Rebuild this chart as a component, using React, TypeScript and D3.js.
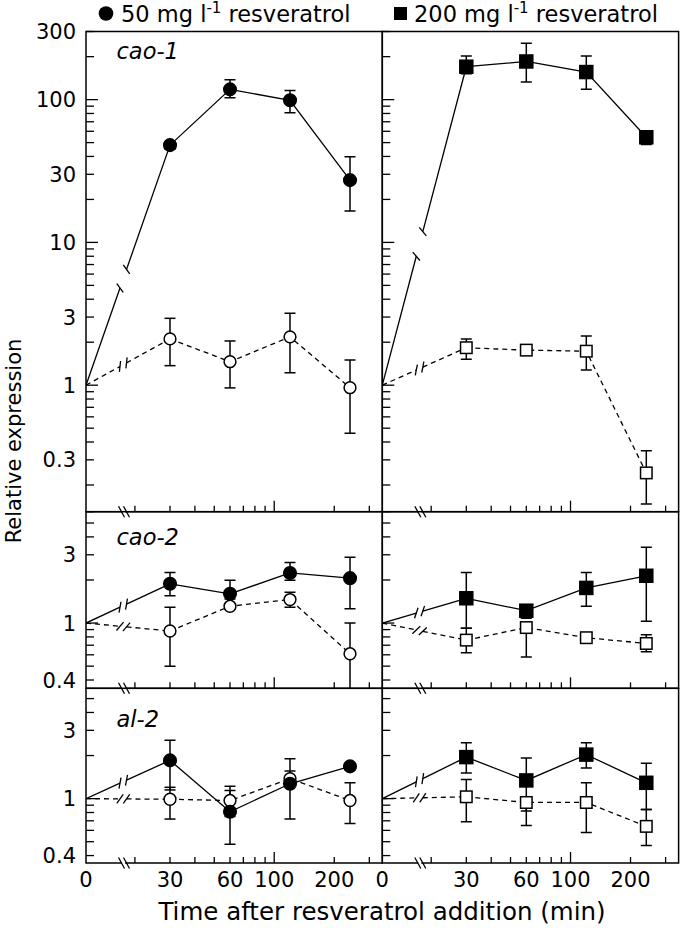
import React from 'react';
import * as d3 from 'd3';

// ---------- data ----------
const times = [30, 60, 120, 240];
const xMinorTicks = [20, 30, 40, 50, 60, 70, 80, 90, 200, 300];
const xMajorTicks = [100];
const xTickLabels = [30, 60, 100, 200];
const yLabelsTop = [300, 100, 30, 10, 3, 1, 0.3];
const yLabelsLow = [3, 1, 0.4];
const geneNames = ['cao-1', 'cao-2', 'al-2'];
const legendLabels = ['50 mg l', '200 mg l'];

// cao-1, 50 mg/l
const cao1_50_filled = [48, 118, 99, 27.3];
const cao1_50_filled_hi = [51, 138, 116, 39.8];
const cao1_50_filled_lo = [45, 103, 81, 16.6];
const cao1_50_open = [2.11, 1.46, 2.18, 0.96];
const cao1_50_open_hi = [2.94, 2.04, 3.19, 1.5];
const cao1_50_open_lo = [1.37, 0.957, 1.22, 0.46];
// cao-1, 200 mg/l
const cao1_200_filled = [170, 185, 156, 54.5];
const cao1_200_filled_hi = [202, 248, 202, 59.8];
const cao1_200_filled_lo = [152, 133, 118, 48.4];
const cao1_200_open = [1.83, 1.76, 1.73, 0.243];
const cao1_200_open_hi = [2.11, 1.85, 2.21, 0.347];
const cao1_200_open_lo = [1.52, 1.68, 1.28, 0.147];
// cao-2, 50 mg/l
const cao2_50_filled = [1.88, 1.6, 2.24, 2.06];
const cao2_50_filled_hi = [2.26, 1.99, 2.65, 2.88];
const cao2_50_filled_lo = [1.55, 1.47, 1.99, 1.26];
const cao2_50_open = [0.88, 1.31, 1.46, 0.61];
const cao2_50_open_hi = [1.29, 1.36, 1.64, 1.0];
const cao2_50_open_lo = [0.5, 1.25, 1.29, 0.3];
// cao-2, 200 mg/l
const cao2_200_filled = [1.49, 1.22, 1.76, 2.14];
const cao2_200_filled_hi = [2.26, 1.34, 2.26, 3.38];
const cao2_200_filled_lo = [0.92, 1.08, 1.31, 1.03];
const cao2_200_open = [0.76, 0.93, 0.79, 0.72];
const cao2_200_open_hi = [0.92, 0.99, 0.83, 0.83];
const cao2_200_open_lo = [0.62, 0.58, 0.75, 0.63];
// al-2, 50 mg/l
const al2_50_filled = [1.85, 0.81, 1.27, 1.68];
const al2_50_filled_hi = [2.56, 1.14, 1.9, 1.75];
const al2_50_filled_lo = [1.15, 0.48, 0.72, 1.6];
const al2_50_open = [0.99, 0.97, 1.38, 0.97];
const al2_50_open_hi = [1.2, 1.22, 1.56, 1.29];
const al2_50_open_lo = [0.72, 0.75, 1.22, 0.67];
// al-2, 200 mg/l
const al2_200_filled = [1.95, 1.34, 2.03, 1.29];
const al2_200_filled_hi = [2.46, 1.92, 2.46, 1.77];
const al2_200_filled_lo = [1.51, 0.82, 1.64, 0.84];
const al2_200_open = [1.03, 0.94, 0.94, 0.64];
const al2_200_open_hi = [1.36, 1.0, 1.29, 0.84];
const al2_200_open_lo = [0.69, 0.65, 0.58, 0.47];

type Series = { mean: number[]; lo: number[]; hi: number[] };
const mk = (mean: number[], lo: number[], hi: number[]): Series => ({ mean, lo, hi });

// panels[row][col] = { filled, open }
const panelData = [
  [
    { filled: mk(cao1_50_filled, cao1_50_filled_lo, cao1_50_filled_hi), open: mk(cao1_50_open, cao1_50_open_lo, cao1_50_open_hi) },
    { filled: mk(cao1_200_filled, cao1_200_filled_lo, cao1_200_filled_hi), open: mk(cao1_200_open, cao1_200_open_lo, cao1_200_open_hi) },
  ],
  [
    { filled: mk(cao2_50_filled, cao2_50_filled_lo, cao2_50_filled_hi), open: mk(cao2_50_open, cao2_50_open_lo, cao2_50_open_hi) },
    { filled: mk(cao2_200_filled, cao2_200_filled_lo, cao2_200_filled_hi), open: mk(cao2_200_open, cao2_200_open_lo, cao2_200_open_hi) },
  ],
  [
    { filled: mk(al2_50_filled, al2_50_filled_lo, al2_50_filled_hi), open: mk(al2_50_open, al2_50_open_lo, al2_50_open_hi) },
    { filled: mk(al2_200_filled, al2_200_filled_lo, al2_200_filled_hi), open: mk(al2_200_open, al2_200_open_lo, al2_200_open_hi) },
  ],
];

// ---------- layout ----------
const W = 680;
const H = 940;
const FONT = '"DejaVu Sans", Verdana, sans-serif';
const colLeft = [86, 382.3];
const panelW = 296.3;
const rows = [
  { top: 31.5, bottom: 511.7, domain: [0.13, 300], labels: yLabelsTop },
  { top: 511.7, bottom: 688.3, domain: [0.35, 6], labels: yLabelsLow },
  { top: 688.3, bottom: 863, domain: [0.355, 5.9], labels: yLabelsLow },
];
const geneLabelBaseline = [59, 545, 726.5];

const xs = d3.scaleLog().domain([30, 240]).range([84, 264]);

const fmt = (v: number) => (v < 1 ? String(v) : d3.format('d')(v));

function BreakLine({ x0, y0, x1, y1, dashed }: { x0: number; y0: number; x1: number; y1: number; dashed: boolean }) {
  const ga = 34;
  const gb = 40.5;
  const dx = x1 - x0;
  const dy = y1 - y0;
  const ta = ga / dx;
  const tb = gb / dx;
  const ax = x0 + dx * ta, ay = y0 + dy * ta;
  const bx = x0 + dx * tb, by = y0 + dy * tb;
  const ang = Math.atan2(dy, dx) - (55 * Math.PI) / 180;
  const L = 5.5;
  const mx = Math.cos(ang) * L, my = Math.sin(ang) * L;
  const dash = dashed ? '5,4' : undefined;
  return (
    <g stroke="#000" strokeWidth={1.3} fill="none">
      <line x1={x0} y1={y0} x2={ax} y2={ay} strokeDasharray={dash} />
      <line x1={bx} y1={by} x2={x1} y2={y1} strokeDasharray={dash} />
      <line x1={ax - mx} y1={ay - my} x2={ax + mx} y2={ay + my} />
      <line x1={bx - mx} y1={by - my} x2={bx + mx} y2={by + my} />
    </g>
  );
}

function Panel({ r, c }: { r: number; c: number }) {
  const row = rows[r];
  const left = colLeft[c];
  const ys = d3.scaleLog().domain(row.domain).range([row.bottom, row.top]);
  const x = (t: number) => left + xs(t);
  const d = panelData[r][c];
  const clipId = `clip-${r}-${c}`;
  const yTicks = ys.ticks().filter((v) => v >= row.domain[0] && v <= row.domain[1]);
  const isMajor = (v: number) => Math.abs(Math.log10(v) - Math.round(Math.log10(v))) < 1e-9;
  const square = c === 1;

  const drawSeries = (s: Series, filled: boolean) => {
    const pts = times.map((t, i) => [x(t), ys(s.mean[i])] as [number, number]);
    const line = d3.line();
    return (
      <g key={filled ? 'f' : 'o'}>
        <BreakLine x0={left} y0={ys(1)} x1={pts[0][0]} y1={pts[0][1]} dashed={!filled} />
        <path d={line(pts) || ''} fill="none" stroke="#000" strokeWidth={1.3} strokeDasharray={filled ? undefined : '5,4'} />
      </g>
    );
  };
  const drawErr = (s: Series, key: string) =>
    times.map((t, i) => {
      const cx = x(t);
      const y1 = ys(s.hi[i]);
      const y2 = ys(s.lo[i]);
      return (
        <g key={key + i} stroke="#000" strokeWidth={1.5}>
          <line x1={cx} x2={cx} y1={y1} y2={y2} />
          <line x1={cx - 5.5} x2={cx + 5.5} y1={y1} y2={y1} />
          <line x1={cx - 5.5} x2={cx + 5.5} y1={y2} y2={y2} />
        </g>
      );
    });
  const drawMarkers = (s: Series, filled: boolean) =>
    times.map((t, i) => {
      const cx = x(t);
      const cy = ys(s.mean[i]);
      if (square) {
        const sz = filled ? 13 : 11.5;
        return (
          <rect key={(filled ? 'f' : 'o') + i} x={cx - sz / 2} y={cy - sz / 2} width={sz} height={sz}
            fill={filled ? '#000' : '#fff'} stroke="#000" strokeWidth={1.5} />
        );
      }
      return (
        <circle key={(filled ? 'f' : 'o') + i} cx={cx} cy={cy} r={filled ? 6.3 : 5.9}
          fill={filled ? '#000' : '#fff'} stroke="#000" strokeWidth={1.5} />
      );
    });

  return (
    <g>
      <defs>
        <clipPath id={clipId}>
          <rect x={left} y={row.top} width={panelW} height={row.bottom - row.top} />
        </clipPath>
      </defs>
      {yTicks.map((v) => (
        <line key={'yt' + v} x1={left} x2={left + (isMajor(v) ? 12 : 8)} y1={ys(v)} y2={ys(v)} stroke="#000" strokeWidth={1.3} />
      ))}
      {xMinorTicks.map((t) => (
        <line key={'xt' + t} x1={x(t)} x2={x(t)} y1={row.bottom} y2={row.bottom - 6} stroke="#000" strokeWidth={1.3} />
      ))}
      {xMajorTicks.map((t) => (
        <line key={'xM' + t} x1={x(t)} x2={x(t)} y1={row.bottom} y2={row.bottom - 11} stroke="#000" strokeWidth={1.3} />
      ))}
      <g clipPath={`url(#${clipId})`}>
        {drawSeries(d.open, false)}
        {drawSeries(d.filled, true)}
        {drawErr(d.open, 'eo')}
        {drawErr(d.filled, 'ef')}
        {drawMarkers(d.open, false)}
        {drawMarkers(d.filled, true)}
      </g>
      <rect x={left} y={row.top} width={panelW} height={row.bottom - row.top} fill="none" stroke="#000" strokeWidth={1.5} />
      <rect x={left + 36} y={row.bottom - 3} width={3} height={6} fill="#fff" />
      {[35.5, 40.5].map((o) => (
        <line key={'br' + o} x1={left + o - 3} y1={row.bottom - 5.5} x2={left + o + 3} y2={row.bottom + 5.5} stroke="#000" strokeWidth={1.3} />
      ))}
      {c === 0 &&
        row.labels.map((v) => (
          <text key={'yl' + v} x={76} y={ys(v)} dy="0.36em" textAnchor="end" fontSize={21} fontFamily={FONT}>
            {fmt(v)}
          </text>
        ))}
      {c === 0 && (
        <text x={116.5} y={geneLabelBaseline[r]} fontSize={22.5} fontStyle="italic" fontFamily={FONT}>
          {geneNames[r]}
        </text>
      )}
      {r === 2 && (
        <g fontSize={21} fontFamily={FONT} textAnchor="middle">
          <text x={left} y={887}>0</text>
          {xTickLabels.map((t) => (
            <text key={'xl' + t} x={x(t)} y={887}>{t}</text>
          ))}
        </g>
      )}
    </g>
  );
}

export default function App() {
  return (
    <div style={{ position: 'absolute', left: 0, top: 0 }}>
      <svg width={W} height={H} style={{ display: 'block', background: '#fff' }}>
        <rect x={0} y={0} width={W} height={H} fill="#fff" />
        <g fontFamily={FONT} fontSize={22.5}>
          <circle cx={106} cy={13.5} r={7.3} fill="#000" />
          <text x={121} y={21.5}>
            {legendLabels[0]}
            <tspan fontSize={15} dy={-9}>-1</tspan>
            <tspan dy={9}> resveratrol</tspan>
          </text>
          <rect x={394} y={7} width={13} height={13} fill="#000" />
          <text x={414} y={21.5}>
            {legendLabels[1]}
            <tspan fontSize={15} dy={-9}>-1</tspan>
            <tspan dy={9}> resveratrol</tspan>
          </text>
        </g>
        {rows.map((_, r) => [0, 1].map((c) => <Panel key={`${r}-${c}`} r={r} c={c} />))}
        <text x={382} y={920} textAnchor="middle" fontSize={24.5} fontFamily={FONT}>
          Time after resveratrol addition (min)
        </text>
        <text transform={`translate(21,441) rotate(-90)`} textAnchor="middle" fontSize={21} fontFamily={FONT}>
          Relative expression
        </text>
      </svg>
    </div>
  );
}
